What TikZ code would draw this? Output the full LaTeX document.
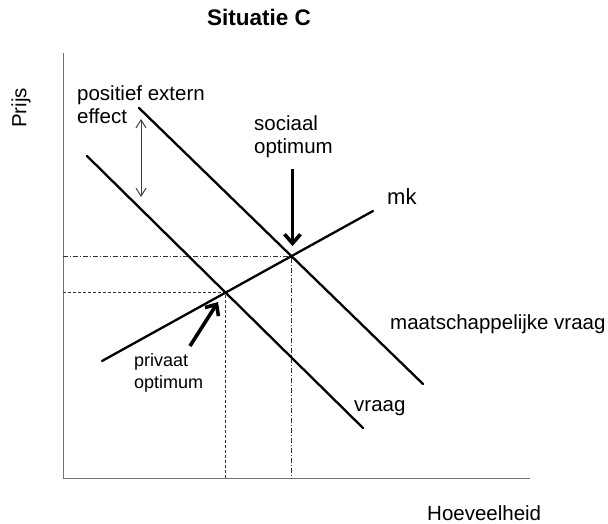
\documentclass[tikz,border=0pt]{standalone}
\usepackage{fontspec}
\setmainfont{Liberation Sans}
\usetikzlibrary{arrows.meta}
\begin{document}
\begin{tikzpicture}[x=1pt,y=-1pt,
  lbl/.style={inner sep=0pt, anchor=west, align=left, font=\fontsize{20.5}{23}\selectfont},
  smalllbl/.style={inner sep=0pt, anchor=west, align=left, font=\fontsize{18}{22}\selectfont},
  curve/.style={line width=2.3pt, line cap=round},
  axis/.style={line width=1pt, draw=black!55},
  bigarrow/.style={line width=3.6pt, -{Straight Barb[length=9pt,width=16pt,line width=3.6pt]}},
  guide/.style={line width=0.7pt, draw=black!80},
]
\useasboundingbox (0,0) rectangle (608,524);
% title
\node[inner sep=0pt, font=\fontsize{22.5}{26}\selectfont\bfseries] (title) at (259,17) {Situatie C};
% axes
\coordinate (o) at (63,478);
\coordinate (ytop) at (63,53);
\coordinate (xend) at (530,478);
\draw[axis] (ytop) -- (o) -- (xend);
\node[inner sep=0pt, rotate=90, font=\fontsize{20.5}{23}\selectfont] (prijs) at (21,108) {Prijs};
\node[lbl] (hoev) at (427,513) {Hoeveelheid};
% lines
\coordinate (mvA) at (139,108);
\coordinate (mvB) at (423,384);
\coordinate (vA) at (87,156);
\coordinate (vB) at (363,428);
\coordinate (mkA) at (102,361);
\coordinate (mkB) at (373,211);
\coordinate (soc) at (intersection of mvA--mvB and mkA--mkB);
\coordinate (priv) at (intersection of vA--vB and mkA--mkB);
\coordinate (socY) at (o |- soc);
\coordinate (socX) at (o -| soc);
\coordinate (privY) at (o |- priv);
\coordinate (privX) at (o -| priv);
\draw[guide, dash pattern=on 5pt off 2pt on 1pt off 2pt] (socY) -- (soc) -- (socX);
\draw[guide, dash pattern=on 3pt off 2pt] (privY) -- (priv) -- (privX);
\draw[curve] (mvA) -- (mvB);
\draw[curve] (vA) -- (vB);
\draw[curve] (mkA) -- (mkB);
% labels
\node[lbl] (pee) at (77,104.5) {positief extern\\effect};
\node[lbl] (so) at (254,136.5) {sociaal\\optimum};
\node[smalllbl] (po) at (134,373) {privaat\\optimum};
\node[inner sep=0pt, anchor=west, font=\fontsize{22}{26}\selectfont] (mk) at (387,197) {mk};
\node[lbl] (mv) at (390,324) {maatschappelijke vraag};
\node[lbl] (vr) at (354,408) {vraag};
% arrows
\coordinate (deA) at (141,119);
\coordinate (deB) at (141,197);
\draw[line width=1pt, draw=black!75, {Straight Barb[length=8pt,width=10pt]}-{Straight Barb[length=8pt,width=10pt]}] (deA) -- (deB);
\coordinate (socTop) at (292.5,169);
\coordinate (socTip) at (292.5,246);
\draw[bigarrow] (socTop) -- (socTip);
\coordinate (privTail) at (190,346);
\coordinate (privTip) at (218,302);
\draw[bigarrow] (privTail) -- (privTip);
\end{tikzpicture}
\end{document}
